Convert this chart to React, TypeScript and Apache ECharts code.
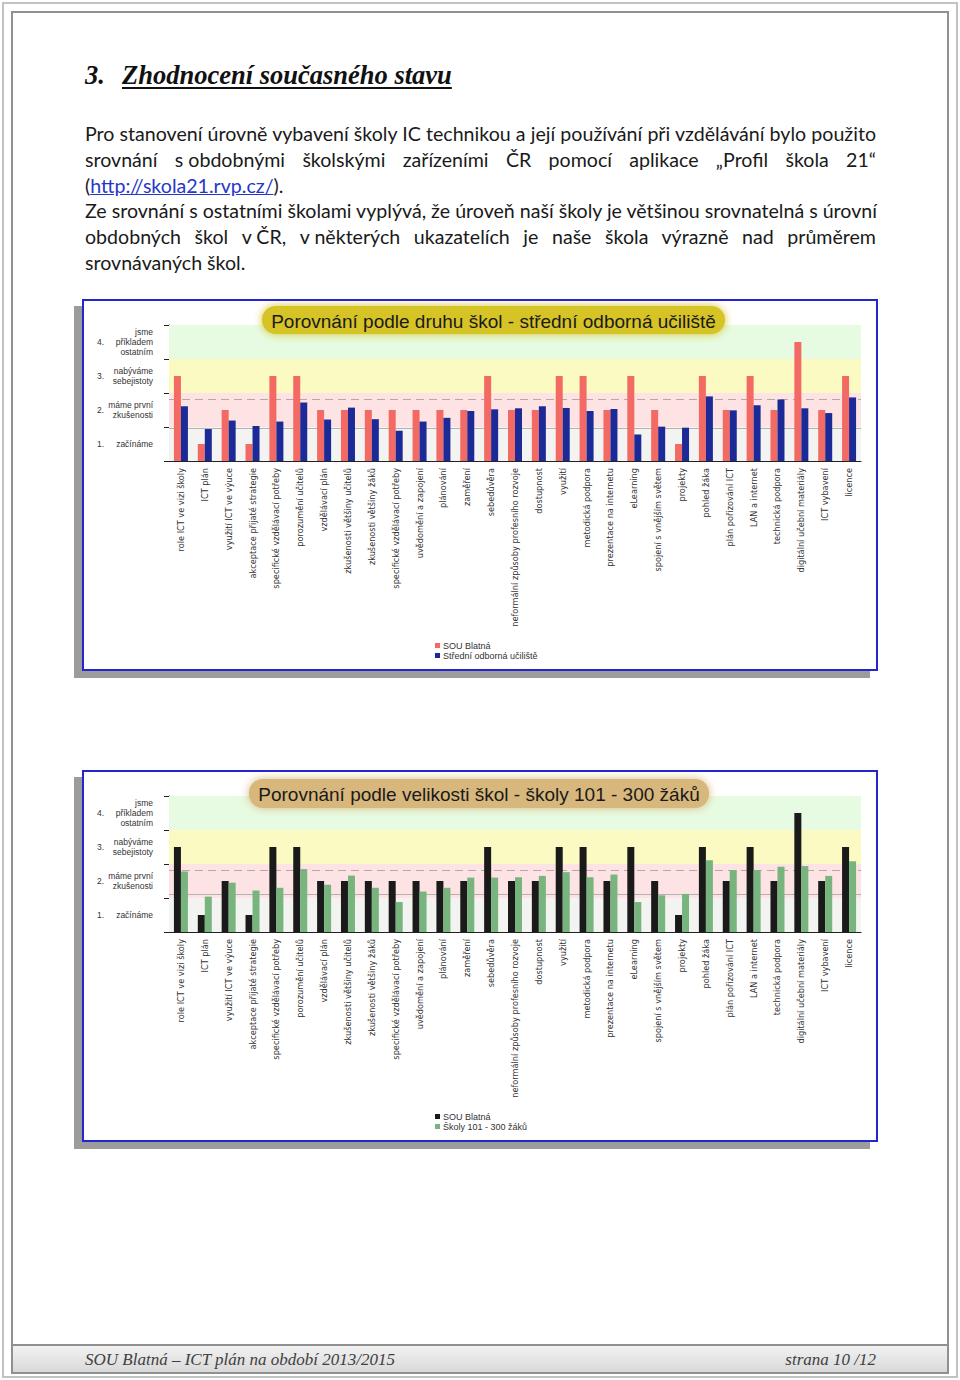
import React, { useEffect, useRef } from "react";
import * as echarts from "echarts";

// ---------- data ----------
const categories = [
  "role ICT ve vizi školy",
  "ICT plán",
  "využití ICT ve výuce",
  "akceptace přijaté strategie",
  "specifické vzdělávací potřeby",
  "porozumění učitelů",
  "vzdělávací plán",
  "zkušenosti většiny učitelů",
  "zkušenosti většiny žáků",
  "specifické vzdělávací potřeby",
  "uvědomění a zapojení",
  "plánování",
  "zaměření",
  "sebedůvěra",
  "neformální způsoby profesního rozvoje",
  "dostupnost",
  "využití",
  "metodická podpora",
  "prezentace na internetu",
  "eLearning",
  "spojení s vnějším světem",
  "projekty",
  "pohled žáka",
  "plán pořizování ICT",
  "LAN a internet",
  "technická podpora",
  "digitální učební materiály",
  "ICT vybavení",
  "licence",
];

const blatnaValues = [3, 1, 2, 1, 3, 3, 2, 2, 2, 2, 2, 2, 2, 3, 2, 2, 3, 3, 2, 3, 2, 1, 3, 2, 3, 2, 4, 2, 3];
const souValues = [2.11, 1.44, 1.69, 1.53, 1.66, 2.22, 1.72, 2.07, 1.73, 1.39, 1.66, 1.77, 1.97, 2.02, 2.05, 2.11, 2.06, 1.97, 2.03, 1.28, 1.51, 1.48, 2.4, 1.99, 2.14, 2.31, 2.05, 1.91, 2.37];
const size101Values = [2.28, 1.54, 1.95, 1.72, 1.8, 2.35, 1.89, 2.16, 1.8, 1.38, 1.69, 1.8, 2.1, 2.1, 2.11, 2.15, 2.26, 2.11, 2.19, 1.38, 1.58, 1.62, 2.61, 2.32, 2.32, 2.42, 2.44, 2.15, 2.58];

const levelNumbers = [1, 2, 3, 4];
const levelTexts = ["začínáme", "máme první\nzkušenosti", "nabýváme\nsebejistoty", "jsme\npříkladem\nostatním"];
const chart1Lines = [2.32, 1.47];
const chart2Lines = [2.33, 1.62];

const chart1Title = "Porovnání podle druhu škol - střední odborná učiliště";
const chart2Title = "Porovnání podle velikosti škol - školy 101 - 300 žáků";
const chart1Names = ["SOU Blatná", "Střední odborná učiliště"];
const chart2Names = ["SOU Blatná", "Školy 101 - 300 žáků"];

const headingNumber = "3.";
const headingText = "Zhodnocení současného stavu";
const linkText = "http://skola21.rvp.cz/";
const footerLeft = "SOU Blatná – ICT plán na období 2013/2015";
const footerRight = "strana 10 /12";

// ---------- chart ----------
type ChartCfg = {
  title: string;
  names: string[];
  a: number[];
  b: number[];
  colors: string[];
  lines: number[];
  badge: { x: number; y: number; w: number; h: number; color: string };
};

function buildOption(cfg: ChartCfg) {
  const font = "'Liberation Sans', Arial, sans-serif";
  return {
    animation: false,
    textStyle: { fontFamily: font },
    grid: { left: 85, right: 15, top: 24, bottom: 208, outerBoundsMode: "none", containLabel: false },
    legend: {
      data: cfg.names,
      orient: "vertical",
      left: 351,
      top: 340,
      itemWidth: 5,
      itemHeight: 5,
      itemGap: 1,
      padding: 0,
      icon: "rect",
      textStyle: { fontSize: 9, color: "#333", fontFamily: font, padding: [0, 0, 0, -2] },
    },
    graphic: [
      {
        type: "rect",
        shape: { x: cfg.badge.x, y: cfg.badge.y, width: cfg.badge.w, height: cfg.badge.h, r: 14 },
        style: { fill: cfg.badge.color, shadowBlur: 8, shadowColor: cfg.badge.color },
        z: 10,
      },
      {
        type: "text",
        style: {
          text: cfg.title,
          x: cfg.badge.x + cfg.badge.w / 2,
          y: cfg.badge.y + cfg.badge.h / 2 + 1,
          align: "center",
          verticalAlign: "middle",
          fontSize: 19,
          fontFamily: font,
          fill: "#1a1a1a",
        },
        z: 11,
      },
    ],
    xAxis: {
      type: "category",
      data: categories,
      axisLine: { lineStyle: { color: "#222", width: 1 } },
      axisTick: { alignWithLabel: true, length: 4, lineStyle: { color: "#222" } },
      axisLabel: {
        rotate: 90,
        margin: 7,
        fontSize: 8.2,
        color: "#333",
        fontFamily: "'DejaVu Sans', Verdana, sans-serif",
        interval: 0,
      },
      splitLine: { show: false },
    },
    yAxis: [
      {
        type: "value",
        position: "left",
        min: 0.5,
        max: 4.5,
        interval: 0.5,
        axisLine: { show: true, lineStyle: { color: "#222" } },
        axisTick: { show: false },
        splitLine: { show: false },
        axisLabel: {
          margin: 16,
          fontSize: 8.5,
          lineHeight: 10,
          color: "#333",
          formatter: (v: number) => {
            const i = levelNumbers.indexOf(v);
            return i >= 0 ? levelTexts[i] : "";
          },
        },
      },
      {
        type: "value",
        position: "left",
        offset: 0,
        min: 1,
        max: 5,
        interval: 1,
        axisLine: { show: false },
        axisTick: { show: true, length: 5, lineStyle: { color: "#222" } },
        axisLabel: { show: false },
        splitLine: { show: false },
      },
      {
        type: "value",
        position: "left",
        offset: 0,
        min: 0.5,
        max: 4.5,
        interval: 0.5,
        axisLine: { show: false },
        axisTick: { show: false },
        splitLine: { show: false },
        axisLabel: {
          margin: 65,
          fontSize: 8.5,
          color: "#333",
          formatter: (v: number) => (levelNumbers.indexOf(v) >= 0 ? `${v}.` : ""),
        },
      },
    ],
    series: [
      {
        name: cfg.names[0],
        type: "bar",
        data: cfg.a,
        barWidth: 7,
        barGap: "0%",
        itemStyle: { color: cfg.colors[0] },
        markArea: {
          silent: true,
          data: [
            [{ yAxis: 3.5, itemStyle: { color: "#e6fbe1" } }, { yAxis: 4.5 }],
            [{ yAxis: 2.5, itemStyle: { color: "#fafac2" } }, { yAxis: 3.5 }],
            [{ yAxis: 1.5, itemStyle: { color: "#fde3e3" } }, { yAxis: 2.5 }],
            [{ yAxis: 0.5, itemStyle: { color: "#f3f3f1" } }, { yAxis: 1.5 }],
          ],
        },
        markLine: {
          silent: true,
          symbol: "none",
          label: { show: false },
          z: 1,
          data: [
            { yAxis: cfg.lines[0], lineStyle: { type: [8, 5], color: "#b9a6a6", width: 1 } },
            { yAxis: cfg.lines[1], lineStyle: { type: "solid", color: "#b3b3b3", width: 1 } },
          ],
        },
      },
      {
        name: cfg.names[1],
        type: "bar",
        data: cfg.b,
        barWidth: 7,
        barGap: "0%",
        itemStyle: { color: cfg.colors[1] },
      },
    ],
  };
}

function Chart({ cfg }: { cfg: ChartCfg }) {
  const ref = useRef<HTMLDivElement>(null);
  useEffect(() => {
    if (!ref.current) return;
    const chart = echarts.init(ref.current, undefined, { renderer: "svg" });
    chart.setOption(buildOption(cfg) as any);
    return () => chart.dispose();
  }, [cfg]);
  return <div ref={ref} style={{ width: 792, height: 368 }} />;
}

const cfg1: ChartCfg = {
  title: chart1Title,
  names: chart1Names,
  a: blatnaValues,
  b: souValues,
  colors: ["#f26a63", "#1b2a96"],
  lines: chart1Lines,
  badge: { x: 178, y: 5, w: 463, h: 28, color: "#d6c327" },
};
const cfg2: ChartCfg = {
  title: chart2Title,
  names: chart2Names,
  a: blatnaValues,
  b: size101Values,
  colors: ["#1a1a1a", "#77b47e"],
  lines: chart2Lines,
  badge: { x: 165, y: 7, w: 460, h: 29, color: "#d8b77c" },
};

const abs = (s: React.CSSProperties): React.CSSProperties => ({ position: "absolute", boxSizing: "border-box", ...s });

const bodyFont = "Lato, 'Open Sans', sans-serif";
const lineStyle = (top: number, justify: boolean): React.CSSProperties =>
  abs({
    left: 85,
    top,
    width: 791,
    height: 26,
    lineHeight: "26px",
    fontSize: 19.6,
    fontFamily: bodyFont,
    color: "#1a1a1a",
    textAlign: justify ? "justify" : "left",
    textAlignLast: justify ? ("justify" as any) : "left",
    whiteSpace: "nowrap",
  });
const keep: React.CSSProperties = { display: "inline-block" };

export default function App() {
  return (
    <div style={abs({ left: 0, top: 0, width: 960, height: 1380, background: "#fff", overflow: "hidden" })}>
      <div style={abs({ left: 2, top: 2, width: 956, height: 1376, border: "2px solid #c2c2c2" })} />
      <div style={abs({ left: 11, top: 11, width: 938, height: 1363, border: "2px solid #909090" })} />
      <div
        style={abs({
          left: 13,
          top: 1344,
          width: 934,
          height: 28,
          borderTop: "2px solid #909090",
          background: "linear-gradient(to bottom, #f2f2f2, #d9d9d9)",
        })}
      />
      <div
        style={abs({
          left: 85,
          top: 1351,
          fontFamily: "'Liberation Serif', serif",
          fontStyle: "italic",
          fontSize: 17,
          lineHeight: "17px",
          color: "#404040",
          whiteSpace: "nowrap",
        })}
      >
        {footerLeft}
      </div>
      <div
        style={abs({
          right: 960 - 876,
          top: 1351,
          fontFamily: "'Liberation Serif', serif",
          fontStyle: "italic",
          fontSize: 17,
          lineHeight: "17px",
          color: "#404040",
          whiteSpace: "nowrap",
        })}
      >
        {footerRight}
      </div>

      {/* heading */}
      <div
        style={abs({
          left: 85,
          top: 62,
          fontFamily: "'Liberation Serif', serif",
          fontWeight: "bold",
          fontStyle: "italic",
          fontSize: 26.5,
          lineHeight: "27px",
          color: "#111",
          whiteSpace: "nowrap",
        })}
      >
        {headingNumber}
      </div>
      <div
        style={abs({
          left: 122,
          top: 62,
          fontFamily: "'Liberation Serif', serif",
          fontWeight: "bold",
          fontStyle: "italic",
          fontSize: 26.5,
          lineHeight: "27px",
          color: "#111",
          whiteSpace: "nowrap",
          textDecoration: "underline",
          textDecorationThickness: "1.5px",
          textUnderlineOffset: "3px",
        })}
      >
        {headingText}
      </div>

      {/* paragraph */}
      <div style={lineStyle(121, true)}>
        Pro stanovení úrovně vybavení školy IC technikou a její používání při vzdělávání bylo použito
      </div>
      <div style={lineStyle(147, true)}>
        srovnání <span style={keep}>s{"\u00a0"}obdobnými</span> školskými zařízeními ČR pomocí aplikace „Profil škola 21“
      </div>
      <div style={lineStyle(173, false)}>
        (<span style={{ color: "#2637c8", textDecoration: "underline" }}>{linkText}</span>).
      </div>
      <div style={lineStyle(198, true)}>
        Ze srovnání s ostatními školami vyplývá, že úroveň naší školy je většinou srovnatelná <span style={keep}>s{"\u00a0"}úrovní</span>
      </div>
      <div style={lineStyle(224, true)}>
        obdobných škol <span style={keep}>v{"\u00a0"}ČR,</span> <span style={keep}>v{"\u00a0"}některých</span> ukazatelích je naše škola výrazně nad průměrem
      </div>
      <div style={lineStyle(250, false)}>srovnávaných škol.</div>

      {/* charts */}
      <div
        style={abs({
          left: 82,
          top: 299,
          width: 796,
          height: 372,
          border: "2px solid #2525cf",
          boxShadow: "-8px 7px 0 #9c9c9c",
          background: "#fff",
        })}
      >
        <Chart cfg={cfg1} />
      </div>
      <div
        style={abs({
          left: 82,
          top: 770,
          width: 796,
          height: 372,
          border: "2px solid #2525cf",
          boxShadow: "-8px 7px 0 #9c9c9c",
          background: "#fff",
        })}
      >
        <Chart cfg={cfg2} />
      </div>
    </div>
  );
}
